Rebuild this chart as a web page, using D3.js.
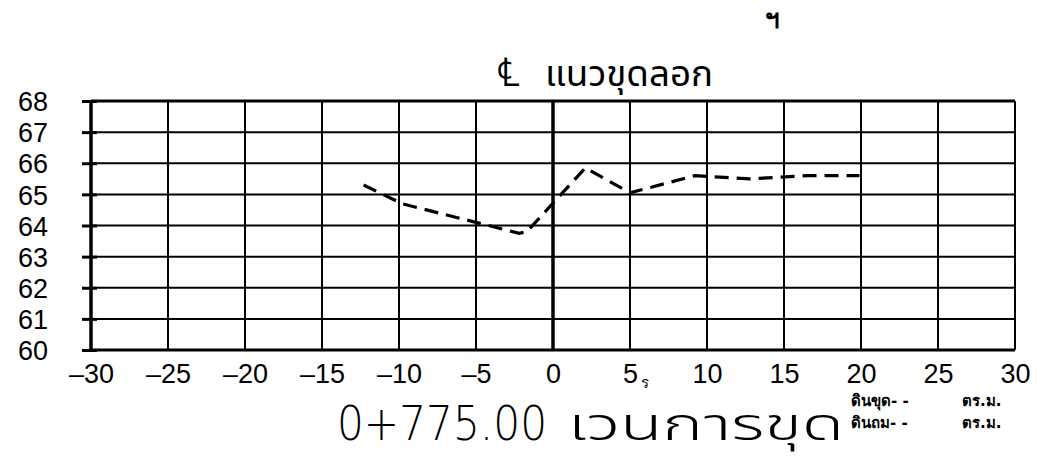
<!DOCTYPE html>
<html><head><meta charset="utf-8">
<script src="https://cdn.jsdelivr.net/npm/d3@7"></script>
<style>body{margin:0;background:#fff}svg{display:block}</style>
</head><body>
<svg id="c" width="1042" height="460"></svg>
<script>
const xTicks = [-30,-25,-20,-15,-10,-5,0,5,10,15,20,25,30];
const yTicks = [60,61,62,63,64,65,66,67,68];
const offsets = [-12.3,-9.8,-2.2,-1.7,2.1,5.0,9.2,12.8,16.5,19.9];
const levels  = [65.3,64.7,63.75,63.8,65.85,65.05,65.6,65.5,65.6,65.6];
const clSymbol = "℄";
const title = "แนวขุดลอก";
const stationNo = "0+775.00";
const stationName = "เวนการขุด";
const cutLabel = "ดินขุด- -";
const fillLabel = "ดินถม- -";
const unitLabel = "ตร.ม.";

const svg = d3.select("#c");
const x = d3.scaleLinear().domain([-30,30]).range([91,1015]);
const y = d3.scaleLinear().domain([60,68]).range([350,101]);

// grid
svg.append("g").selectAll("line").data(yTicks).join("line")
  .attr("x1",x(-30)).attr("x2",x(30)).attr("y1",d=>y(d)).attr("y2",d=>y(d))
  .attr("stroke","#000").attr("stroke-width",d=>(d===60||d===68)?3:2);
svg.append("g").selectAll("line").data(xTicks).join("line")
  .attr("x1",d=>x(d)).attr("x2",d=>x(d)).attr("y1",y(68)).attr("y2",y(60))
  .attr("stroke","#000").attr("stroke-width",d=>(d===-30||d===0)?3.5:2);

// left axis ticks
const yAxis = d3.axisLeft(y).tickValues(yTicks).tickSize(9).tickPadding(34);
const ga = svg.append("g").attr("transform",`translate(${x(-30)},0)`).call(yAxis);
ga.select(".domain").remove();
ga.selectAll(".tick line").attr("stroke","#000").attr("stroke-width",3).attr("x2",6).attr("x1",-9);
ga.selectAll(".tick text").attr("font-family","Liberation Sans, Arial, sans-serif")
  .attr("font-size",27).attr("fill","#000").attr("dy","0.36em");

// bottom axis labels
const xAxis = d3.axisBottom(x).tickValues(xTicks).tickSize(0).tickPadding(14)
  .tickFormat(d=> d<0 ? "–"+Math.abs(d) : String(d));
const gb = svg.append("g").attr("transform",`translate(0,${y(60)})`).call(xAxis);
gb.select(".domain").remove();
gb.selectAll(".tick text").attr("font-family","Liberation Sans, Arial, sans-serif")
  .attr("font-size",27).attr("fill","#000");

// data line
const line = d3.line().x((d,i)=>x(offsets[i])).y((d,i)=>y(levels[i]));
svg.append("path").datum(offsets).attr("d",line).attr("fill","none")
  .attr("stroke","#000").attr("stroke-width",3.2).attr("stroke-dasharray","14,8");

// texts
svg.append("text").attr("x",497).attr("y",86)
  .attr("font-family","DejaVu Sans, sans-serif").attr("font-size",40).attr("font-weight",200)
  .text(clSymbol);
svg.append("text").attr("x",545).attr("y",86)
  .attr("font-family","Noto Sans Thai, Loma, Garuda, DejaVu Sans, sans-serif").attr("font-size",36)
  .attr("textLength",168).attr("lengthAdjust","spacingAndGlyphs")
  .text(title);
svg.append("text").attr("x",772).attr("y",28).attr("text-anchor","middle")
  .attr("font-family","DejaVu Sans, Noto Sans, sans-serif").attr("font-size",26).attr("font-weight","bold")
  .text("ฯ");
svg.append("text").attr("x",641).attr("y",388)
  .attr("font-family","DejaVu Sans, Noto Sans, sans-serif").attr("font-size",15)
  .text("ร");
svg.append("text").attr("x",337).attr("y",440)
  .attr("font-family","DejaVu Sans, Noto Sans, sans-serif").attr("font-size",48).attr("font-weight",200)
  .attr("textLength",210).attr("lengthAdjust","spacingAndGlyphs")
  .text(stationNo);
svg.append("text").attr("x",568).attr("y",440)
  .attr("font-family","Noto Sans Thai, Loma, Garuda, DejaVu Sans, sans-serif").attr("font-size",44)
  .attr("font-weight",300)
  .attr("textLength",276).attr("lengthAdjust","spacingAndGlyphs")
  .text(stationName);
const small = [[cutLabel,406],[fillLabel,428]];
small.forEach(([t,yy])=>{
  svg.append("text").attr("x",851).attr("y",yy).attr("font-family","DejaVu Sans, sans-serif")
    .attr("font-size",15).attr("font-weight","bold").text(t);
  svg.append("text").attr("x",962).attr("y",yy).attr("font-family","DejaVu Sans, sans-serif")
    .attr("font-size",15).attr("font-weight","bold").text(unitLabel);
});
</script>
</body></html>
